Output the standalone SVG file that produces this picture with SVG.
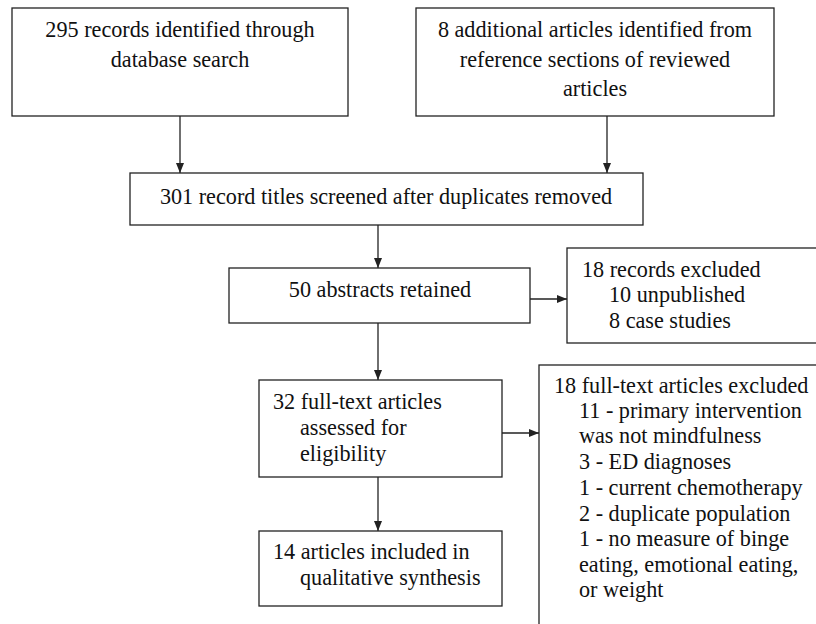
<svg xmlns="http://www.w3.org/2000/svg" width="816" height="624" viewBox="0 0 816 624" font-family="'Liberation Serif', 'DejaVu Serif', 'Times New Roman', serif">
<style>
.box{fill:#fff;stroke:#222;stroke-width:1.3}
text{font-family:'Liberation Serif','DejaVu Serif','Times New Roman',serif;font-size:22.2px;fill:#111}
.c{text-anchor:middle}
.edge{stroke:#222;stroke-width:1.3;fill:none;marker-end:url(#ah)}
</style>
<defs>
<marker id="ah" viewBox="0 0 10 10" refX="10" refY="5" markerWidth="10" markerHeight="10" markerUnits="userSpaceOnUse" orient="auto">
<path d="M0,1 L10,5 L0,9 z" fill="#222"/>
</marker>
</defs>
<rect width="816" height="624" fill="#fff"/>
<g id="n1"><rect class="box" x="12" y="8" width="336" height="108"/>
<text class="c" x="180" y="37">295 records identified through</text>
<text class="c" x="180" y="67">database search</text></g>
<g id="n2"><rect class="box" x="416" y="8" width="358" height="108"/>
<text class="c" x="595" y="37">8 additional articles identified from</text>
<text class="c" x="595" y="67">reference sections of reviewed</text>
<text class="c" x="595" y="96">articles</text></g>
<g id="n3"><rect class="box" x="130" y="173" width="513" height="52"/>
<text class="c" x="386" y="204">301 record titles screened after duplicates removed</text></g>
<g id="n4"><rect class="box" x="229" y="268" width="301" height="55"/>
<text class="c" x="380" y="297">50 abstracts retained</text></g>
<g id="n5"><rect class="box" x="567" y="248" width="260" height="95"/>
<text x="582" y="277">18 records excluded</text>
<text x="609" y="302">10 unpublished</text>
<text x="609" y="328">8 case studies</text></g>
<g id="n6"><rect class="box" x="259" y="380" width="243" height="97"/>
<text x="273" y="409">32 full-text articles</text>
<text x="300" y="435">assessed for</text>
<text x="300" y="461">eligibility</text></g>
<g id="n7"><rect class="box" x="539" y="365" width="300" height="280"/>
<text x="554" y="393">18 full-text articles excluded</text>
<text x="579" y="418">11 - primary intervention</text>
<text x="579" y="443">was not mindfulness</text>
<text x="579" y="469">3 - ED diagnoses</text>
<text x="579" y="495">1 - current chemotherapy</text>
<text x="579" y="521">2 - duplicate population</text>
<text x="579" y="546">1 - no measure of binge</text>
<text x="579" y="572">eating, emotional eating,</text>
<text x="579" y="597">or weight</text></g>
<g id="n8"><rect class="box" x="259" y="531" width="243" height="75"/>
<text x="273" y="559">14 articles included in</text>
<text x="300" y="585">qualitative synthesis</text></g>
<g id="edges">
<path class="edge" d="M180,116 V173"/>
<path class="edge" d="M607,116 V173"/>
<path class="edge" d="M378,225 V268"/>
<path class="edge" d="M530,299 H567"/>
<path class="edge" d="M378,323 V380"/>
<path class="edge" d="M502,433 H539"/>
<path class="edge" d="M378,477 V531"/>
</g>
</svg>
